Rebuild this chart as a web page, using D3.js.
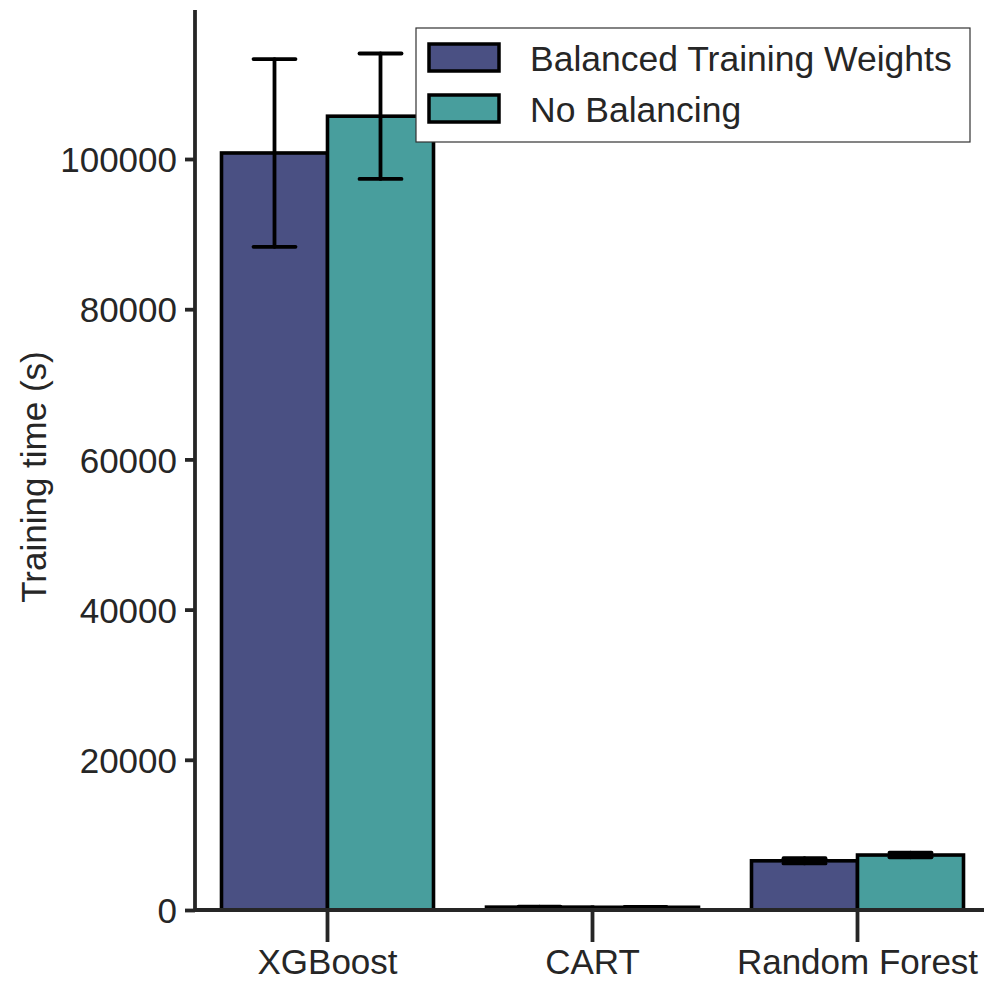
<!DOCTYPE html>
<html>
<head>
<meta charset="utf-8">
<script src="https://cdn.jsdelivr.net/npm/d3@7"></script>
<style>
  body { margin: 0; background: #fff; }
  svg text { font-family: "Liberation Sans", Arial, Helvetica, sans-serif; fill: #262626; }
</style>
</head>
<body>
<svg id="chart" width="984" height="982"></svg>
<script>
// data
var models = ["XGBoost", "CART", "Random Forest"];
var seriesNames = ["Balanced Training Weights", "No Balancing"];
var balancedMean = [100800, 380, 6550];
var balancedErr = [12500, 60, 350];
var noBalMean = [105700, 360, 7320];
var noBalErr = [8350, 60, 300];
var yTicks = [0, 20000, 40000, 60000, 80000, 100000];

var colors = ["#4a5083", "#489e9d"];

var width = 984, height = 982;
var x0 = 195, y0 = 910, yTop = 10;

var svg = d3.select("#chart");

var x = d3.scaleBand()
    .domain(models)
    .range([x0, 990])
    .paddingInner(0)
    .paddingOuter(0);

var xSub = d3.scaleBand()
    .domain(seriesNames)
    .range([x.bandwidth() * 0.1, x.bandwidth() * 0.9]);

var y = d3.scaleLinear()
    .domain([0, 119840])
    .range([y0, yTop]);

var rows = models.map(function(m, i) {
  return {
    model: m,
    vals: [
      { s: seriesNames[0], mean: balancedMean[i], err: balancedErr[i], c: colors[0] },
      { s: seriesNames[1], mean: noBalMean[i], err: noBalErr[i], c: colors[1] }
    ]
  };
});

var groups = svg.selectAll("g.grp")
    .data(rows)
  .enter().append("g")
    .attr("class", "grp")
    .attr("transform", function(d) { return "translate(" + x(d.model) + ",0)"; });

groups.selectAll("rect")
    .data(function(d) { return d.vals; })
  .enter().append("rect")
    .attr("x", function(d) { return xSub(d.s); })
    .attr("width", xSub.bandwidth())
    .attr("y", function(d) { return y(d.mean); })
    .attr("height", function(d) { return y0 - y(d.mean); })
    .attr("fill", function(d) { return d.c; })
    .attr("stroke", "#000")
    .attr("stroke-width", 3.6);

// error bars
var capW = 42;
var eb = groups.selectAll("g.err")
    .data(function(d) { return d.vals; })
  .enter().append("g")
    .attr("class", "err")
    .attr("stroke", "#000")
    .attr("stroke-width", 3.8)
    .attr("stroke-linecap", "round");

eb.append("line")
    .attr("x1", function(d) { return xSub(d.s) + xSub.bandwidth() / 2; })
    .attr("x2", function(d) { return xSub(d.s) + xSub.bandwidth() / 2; })
    .attr("y1", function(d) { return y(d.mean - d.err); })
    .attr("y2", function(d) { return y(d.mean + d.err); });

[-1, 1].forEach(function(sign) {
  eb.append("line")
    .attr("x1", function(d) { return xSub(d.s) + xSub.bandwidth() / 2 - capW / 2; })
    .attr("x2", function(d) { return xSub(d.s) + xSub.bandwidth() / 2 + capW / 2; })
    .attr("y1", function(d) { return y(d.mean + sign * d.err); })
    .attr("y2", function(d) { return y(d.mean + sign * d.err); });
});

// y axis
var yAxis = svg.append("g")
    .attr("transform", "translate(" + x0 + ",0)")
    .call(d3.axisLeft(y).tickValues(yTicks).tickFormat(d3.format("d")).tickSize(10).tickPadding(8));
yAxis.select(".domain").attr("d", "M0," + yTop + "V" + y0);

// x axis
var xAxis = svg.append("g")
    .attr("transform", "translate(0," + y0 + ")")
    .call(d3.axisBottom(x).tickSize(32).tickPadding(7));
xAxis.select(".domain").attr("d", "M" + x0 + ",0H" + width);

svg.selectAll(".domain, .tick line")
    .attr("stroke", "#262626")
    .attr("stroke-width", 3.8);
svg.selectAll(".tick text")
    .attr("font-size", 35)
    .style("font-family", "'Liberation Sans', Arial, sans-serif")
    .attr("fill", "#262626");
yAxis.selectAll(".tick text").attr("dy", "0.36em");

// y label
svg.append("text")
    .attr("transform", "translate(46," + ((y0 + yTop) / 2 + 17) + ") rotate(-90)")
    .attr("text-anchor", "middle")
    .attr("font-size", 35)
    .text("Training time (s)");

// legend
var lg = svg.append("g").attr("transform", "translate(416,28)");
lg.append("rect")
    .attr("width", 554)
    .attr("height", 114)
    .attr("fill", "#fff")
    .attr("stroke", "#333")
    .attr("stroke-width", 1.2);

var items = lg.selectAll("g.item")
    .data(seriesNames)
  .enter().append("g")
    .attr("class", "item")
    .attr("transform", function(d, i) { return "translate(0," + (i * 51) + ")"; });

items.append("rect")
    .attr("x", 13)
    .attr("y", 16)
    .attr("width", 70)
    .attr("height", 27)
    .attr("fill", function(d, i) { return colors[i]; })
    .attr("stroke", "#000")
    .attr("stroke-width", 3.5);

items.append("text")
    .attr("x", 114)
    .attr("y", 30)
    .attr("dy", "0.36em")
    .attr("font-size", 35.5)
    .text(function(d) { return d; });
</script>
</body>
</html>
